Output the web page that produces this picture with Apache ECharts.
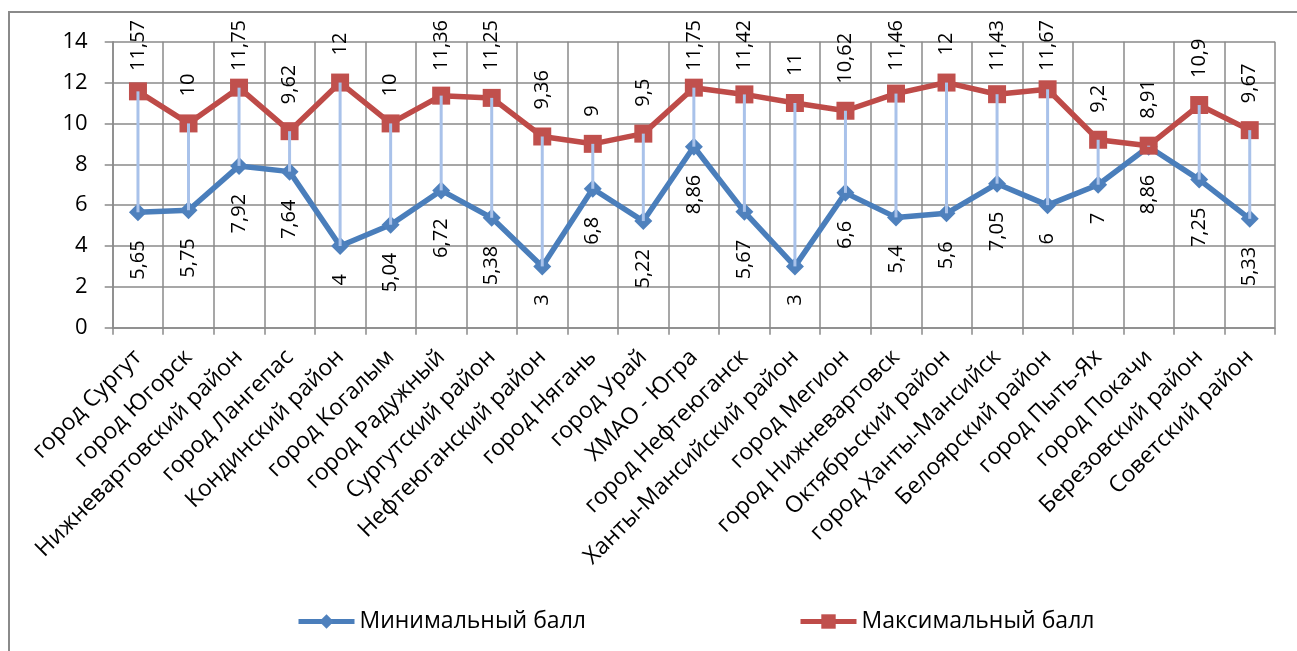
<!DOCTYPE html>
<html>
<head>
<meta charset="utf-8">
<script src="https://cdn.jsdelivr.net/npm/echarts@6/dist/echarts.min.js"></script>
<style>
html,body{margin:0;padding:0;background:#fff;}
#chart{width:1297px;height:651px;}
</style>
</head>
<body>
<div id="chart"></div>
<script>
var categories = ["город Сургут","город Югорск","Нижневартовский район","город Лангепас","Кондинский район","город Когалым","город Радужный","Сургутский район","Нефтеюганский район","город Нягань","город Урай","ХМАО - Югра","город Нефтеюганск","Ханты-Мансийский район","город Мегион","город Нижневартовск","Октябрьский район","город Ханты-Мансийск","Белоярский район","город Пыть-Ях","город Покачи","Березовский район","Советский район"];
var minScores = [5.65,5.75,7.92,7.64,4,5.04,6.72,5.38,3,6.8,5.22,8.86,5.67,3,6.6,5.4,5.6,7.05,6,7,8.86,7.25,5.33];
var maxScores = [11.57,10,11.75,9.62,12,10,11.36,11.25,9.36,9,9.5,11.75,11.42,11,10.62,11.46,12,11.43,11.67,9.2,8.91,10.9,9.67];
var yTicks = {min:0, max:14, interval:2};
var seriesNames = ["Минимальный балл","Максимальный балл"];

var FONT = "Open Sans";
function fmt(v){ return String(v).replace('.', ','); }

var chart = echarts.init(document.getElementById('chart'), null, {renderer:'canvas'});
var rangeData = categories.map(function(c,i){ return [i, minScores[i], maxScores[i]]; });

var legendCommon = {top:610, padding:0, itemWidth:56, itemHeight:18, itemGap:10,
  lineStyle:{width:5}, textStyle:{fontFamily:FONT, fontSize:23, color:'#000'}};

chart.setOption({
  animation:false,
  textStyle:{fontFamily:FONT},
  graphic:[{type:'rect', shape:{x:9, y:12, width:1400, height:800}, style:{fill:null, stroke:'#8a8a8a', lineWidth:2}, z:-10}],
  grid:{left:112.7, right:22, top:41.7, bottom:323.3},
  legend:[
    Object.assign({data:[seriesNames[0]], left:296}, legendCommon),
    Object.assign({data:[seriesNames[1]], left:798}, legendCommon)
  ],
  xAxis:{
    type:'category', data:categories, boundaryGap:true,
    axisLine:{lineStyle:{color:'#8a8a8a', width:1.5}},
    axisTick:{show:true, length:7, lineStyle:{color:'#8a8a8a', width:1.5}},
    splitLine:{show:true, lineStyle:{color:'#8a8a8a', width:1.5}},
    axisLabel:{interval:0, rotate:45, margin:26, align:'right', verticalAlign:'middle',
      padding:[17,0,0,0], color:'#000', fontFamily:FONT, fontSize:23}
  },
  yAxis:{
    type:'value', min:yTicks.min, max:yTicks.max, interval:yTicks.interval,
    axisLine:{show:true, lineStyle:{color:'#8a8a8a', width:1.5}},
    axisTick:{show:true, length:8, lineStyle:{color:'#8a8a8a', width:1.5}},
    splitLine:{show:true, lineStyle:{color:'#8a8a8a', width:1.5}},
    axisLabel:{margin:25, color:'#000', fontFamily:FONT, fontSize:22}
  },
  series:[
    {
      name:seriesNames[0], type:'line', data:minScores, z:3,
      symbol:'diamond', symbolSize:18,
      lineStyle:{color:'#4A7EBB', width:5.5},
      itemStyle:{color:'#4F81BD'},
      label:{show:true, position:'bottom', distance:19, rotate:90, align:'right', verticalAlign:'middle',
        color:'#000', fontFamily:FONT, fontSize:20, formatter:function(p){return fmt(p.value);}}
    },
    {
      name:seriesNames[1], type:'line', data:maxScores, z:3,
      symbol:'rect', symbolSize:18,
      lineStyle:{color:'#BE4B48', width:5.5},
      itemStyle:{color:'#C0504D'},
      label:{show:true, position:'top', distance:18, rotate:90, align:'left', verticalAlign:'middle',
        color:'#000', fontFamily:FONT, fontSize:20, formatter:function(p){return fmt(p.value);}},
      labelLayout:function(p){
        var r = p.labelRect;
        if (r.y < 20) { return {y: 20 + r.height}; }
        return {};
      }
    },
    {
      type:'custom', z:5, silent:true,
      data:rangeData,
      encode:{x:0, y:[1,2]},
      renderItem:function(params, api){
        var a = api.coord([api.value(0), api.value(1)]);
        var b = api.coord([api.value(0), api.value(2)]);
        return {type:'line', shape:{x1:a[0], y1:a[1], x2:b[0], y2:b[1]}, style:{stroke:'#A9C2EA', lineWidth:3}};
      }
    }
  ]
});
</script>
</body>
</html>
